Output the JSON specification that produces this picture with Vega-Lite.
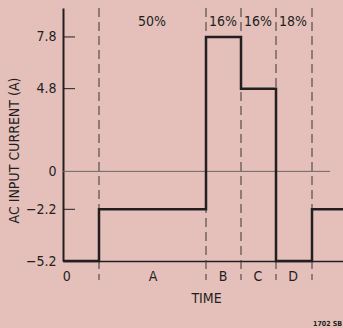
{
  "$schema": "https://vega.github.io/schema/vega-lite/v6.json",
  "width": 280,
  "height": 253,
  "autosize": {"type": "none"},
  "padding": {"left": 63, "top": 8, "right": 0, "bottom": 67},
  "background": "#e5c0bb",
  "config": {
    "view": {"stroke": null},
    "font": "Liberation Sans Narrow, DejaVu Sans Condensed, sans-serif",
    "text": {"font": "Liberation Sans Narrow, DejaVu Sans Condensed, sans-serif"}
  },
  "layer": [
    {
      "data": {"values": [{"t": 36}, {"t": 143}, {"t": 178}, {"t": 213}, {"t": 249}]},
      "mark": {"type": "rule", "strokeDash": [9, 5], "color": "#3a3434", "strokeWidth": 1},
      "encoding": {
        "x": {
          "field": "t", "type": "quantitative",
          "scale": {"domain": [0, 280], "nice": false, "zero": false},
          "axis": {
            "orient": "bottom", "domain": true, "domainColor": "#231f20", "domainWidth": 1.5,
            "ticks": false, "labels": false, "grid": false,
            "title": "TIME", "titleFontSize": 14, "titleFontWeight": "normal", "titleColor": "#231f20",
            "titlePadding": 30, "titleX": 143,
            "titleFont": "Liberation Sans Narrow, DejaVu Sans Condensed, sans-serif"
          }
        },
        "y": {
          "datum": 9.48, "type": "quantitative",
          "scale": {"domain": [-5.2, 9.48], "nice": false, "zero": false},
          "axis": {
            "orient": "left", "values": [7.8, 4.8, 0, -2.2, -5.2],
            "ticks": false, "grid": false, "labelPadding": 7, "labelFontSize": 14,
            "labelColor": "#231f20", "labelFont": "Liberation Sans Narrow, DejaVu Sans Condensed, sans-serif",
            "labelExpr": "datum.value == 0 ? '0' : replace(format(datum.value, '.1f'), '-', '\u2212')",
            "domain": true, "domainColor": "#231f20", "domainWidth": 2,
            "title": "AC INPUT CURRENT (A)", "titleFontSize": 14, "titleFontWeight": "normal",
            "titleColor": "#231f20", "titlePadding": 4, "titleY": 142,
            "titleFont": "Liberation Sans Narrow, DejaVu Sans Condensed, sans-serif"
          }
        },
        "y2": {"datum": -6.3}
      }
    },
    {
      "data": {"values": [{"t": 0, "t2": 267, "v": 0}]},
      "mark": {"type": "rule", "color": "#6e6666", "strokeWidth": 1},
      "encoding": {
        "x": {"field": "t", "type": "quantitative"},
        "x2": {"field": "t2"},
        "y": {"field": "v", "type": "quantitative"}
      }
    },
    {
      "data": {"values": [{"t": 0, "t2": 12, "v": 7.8}, {"t": 0, "t2": 12, "v": 4.8}, {"t": 0, "t2": 12, "v": -2.2}]},
      "mark": {"type": "rule", "color": "#231f20", "strokeWidth": 1},
      "encoding": {
        "x": {"field": "t", "type": "quantitative"},
        "x2": {"field": "t2"},
        "y": {"field": "v", "type": "quantitative"}
      }
    },
    {
      "data": {"values": [
        {"o": 1, "t": 0, "v": -5.2},
        {"o": 2, "t": 36, "v": -5.2},
        {"o": 3, "t": 36, "v": -2.2},
        {"o": 4, "t": 143, "v": -2.2},
        {"o": 5, "t": 143, "v": 7.8},
        {"o": 6, "t": 178, "v": 7.8},
        {"o": 7, "t": 178, "v": 4.8},
        {"o": 8, "t": 213, "v": 4.8},
        {"o": 9, "t": 213, "v": -5.2},
        {"o": 10, "t": 249, "v": -5.2},
        {"o": 11, "t": 249, "v": -2.2},
        {"o": 12, "t": 282, "v": -2.2}
      ]},
      "mark": {"type": "line", "color": "#231f20", "strokeWidth": 2.5, "strokeJoin": "miter", "strokeCap": "butt", "clip": false},
      "encoding": {
        "x": {"field": "t", "type": "quantitative"},
        "y": {"field": "v", "type": "quantitative"},
        "order": {"field": "o", "type": "quantitative"}
      }
    },
    {
      "data": {"values": [
        {"t": 89, "v": 8.67, "label": "50%"},
        {"t": 160, "v": 8.67, "label": "16%"},
        {"t": 195, "v": 8.67, "label": "16%"},
        {"t": 230, "v": 8.67, "label": "18%"},
        {"t": 3.7, "v": -6.13, "label": "0"},
        {"t": 90, "v": -6.13, "label": "A"},
        {"t": 160, "v": -6.13, "label": "B"},
        {"t": 195, "v": -6.13, "label": "C"},
        {"t": 230, "v": -6.13, "label": "D"}
      ]},
      "mark": {"type": "text", "fontSize": 14, "color": "#231f20", "align": "center", "baseline": "middle"},
      "encoding": {
        "x": {"field": "t", "type": "quantitative"},
        "y": {"field": "v", "type": "quantitative"},
        "text": {"field": "label"}
      }
    },
    {
      "data": {"values": [{"t": 250, "v": -8.86, "label": "1702 SB"}]},
      "mark": {"type": "text", "fontSize": 7, "fontWeight": "bold", "color": "#231f20", "align": "left", "baseline": "middle"},
      "encoding": {
        "x": {"field": "t", "type": "quantitative"},
        "y": {"field": "v", "type": "quantitative"},
        "text": {"field": "label"}
      }
    }
  ]
}
